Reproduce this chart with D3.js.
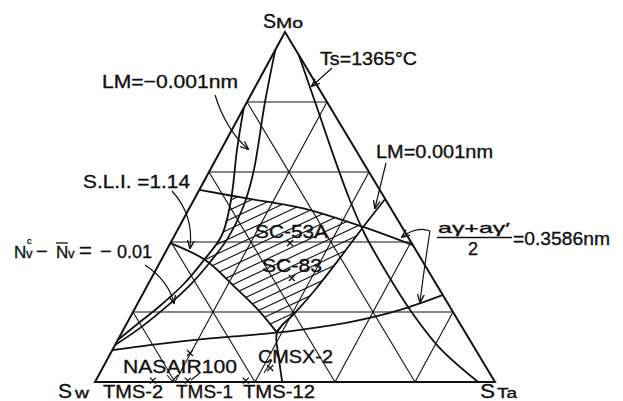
<!DOCTYPE html>
<html><head><meta charset="utf-8">
<script src="https://cdn.jsdelivr.net/npm/d3@7"></script>
<style>
body{margin:0;background:#fff}
svg{display:block}
text{font-family:"Liberation Sans Narrow","Liberation Sans",Arial,sans-serif;fill:#111;stroke:#111;stroke-width:0.35}
</style>
</head><body>
<svg id="c" width="623" height="401"></svg>
<script>
// Ternary W–Mo–Ta diagram. Every point is [Mo %, Ta %]; W = 100 - Mo - Ta.
const gridLevels = [20, 40, 60, 80];

const tsLine   = [[93.4,6.6],[77.7,18.8],[63.4,29.9],[52.0,39.0],[42.0,47.6],[32.0,57.3],[20.6,69.0],[9.7,81.6],[0,95.8]];
const lmMinus  = [[94.9,0],[80.0,4.5],[59.7,11.2],[50.0,13.3],[41.1,13.7],[34.3,12.5],[27.7,10.6],[21.1,7.4],[15.4,3.9],[10.6,0]];
const nvLine   = [[78.3,0],[66.3,4.0],[52.0,9.3],[42.0,11.8],[34.9,10.7],[28.0,8.9],[21.7,5.9],[16.0,2.4],[12.0,0]];
const latUpper = [[54.9,0],[52.3,13.9],[50.9,22.1],[49.1,30.4],[44.3,46.0],[39.1,60.9]];
const latLower = [[9.1,0],[10.9,11.1],[12.3,21.7],[13.4,32.4],[14.1,38.8],[14.9,44.2],[17.1,55.6],[20.6,66.5],[24.9,75.2]];
const sliLine  = [[39.7,0],[34.9,10.9],[27.1,22.1],[20.6,31.0],[14.1,38.8]];
const lmPlus   = [[52.3,47.7],[44.3,46.0],[35.4,44.4],[26.3,42.5],[19.7,40.6],[14.1,38.8],[6.9,42.7],[0,46.8]];
const hatchZone = [[53.1,8.9],[52.3,13.9],[50.9,22.1],[49.1,30.4],[44.3,46.0],[35.4,44.4],[26.3,42.5],[19.7,40.6],[14.1,38.8],[20.6,31.0],[27.1,22.1],[34.9,10.9],[42.0,11.8],[52.0,9.3]];

const alloyNames = ["SC-53A","SC-83","NASAIR100","CMSX-2","TMS-2","TMS-1","TMS-12"];
const alloyMo    = [39.7, 29.7, 8.3, 4.0, 0.4, 0.4, 0.4];
const alloyTa    = [29.9, 35.1, 19.8, 41.9, 14.3, 23.0, 37.5];

const svg = d3.select("#c");
const yOf   = d3.scaleLinear().domain([0,100]).range([382,32]);
const leftX = d3.scaleLinear().domain([0,100]).range([95,285]);
const taX   = d3.scaleLinear().domain([0,100]).range([0,400]);
const proj = ([mo, ta]) => [leftX(mo) + taX(ta), yOf(mo)];

const defs = svg.append("defs");
defs.append("marker").attr("id","ah").attr("viewBox","0 0 10 10").attr("refX",9).attr("refY",5)
  .attr("markerWidth",7).attr("markerHeight",7).attr("orient","auto")
  .append("path").attr("d","M0,1 L10,5 L0,9").attr("fill","none").attr("stroke","#111").attr("stroke-width",1.6);

// hatched window
defs.append("clipPath").attr("id","hz").append("path")
  .attr("d", d3.line()(hatchZone.map(proj)) + "Z");
const hg = svg.append("g").attr("clip-path","url(#hz)");
d3.range(-10, 40).forEach(k => {
  const y0 = 200 + k * 9.5;
  hg.append("line").attr("x1",150).attr("y1",y0).attr("x2",450).attr("y2",y0 - 0.47*300)
    .attr("stroke","#111").attr("stroke-width",1.1);
});

// grid
const grid = svg.append("g").attr("stroke","#111").attr("stroke-width",1.1).attr("fill","none");
gridLevels.forEach(L => {
  [[[L,0],[L,100-L]], [[0,L],[100-L,L]], [[0,100-L],[100-L,0]]].forEach(seg => {
    const a = proj(seg[0]), b = proj(seg[1]);
    grid.append("line").attr("x1",a[0]).attr("y1",a[1]).attr("x2",b[0]).attr("y2",b[1]);
  });
});

// frame
svg.append("path").attr("d", d3.line()([[100,0],[0,0],[0,100]].map(proj)) + "Z")
  .attr("fill","none").attr("stroke","#111").attr("stroke-width",2).attr("stroke-linejoin","miter");

// property curves
const curve = d3.line().curve(d3.curveCatmullRom.alpha(0.5));
[tsLine, lmMinus, nvLine, latUpper, latLower, sliLine, lmPlus].forEach(c => {
  svg.append("path").attr("d", curve(c.map(proj))).attr("fill","none")
    .attr("stroke","#111").attr("stroke-width",1.8);
});

// alloys
alloyNames.forEach((n,i) => {
  const [x,y] = proj([alloyMo[i], alloyTa[i]]);
  svg.append("path").attr("d",`M${x-3},${y-3}L${x+3},${y+3}M${x-3},${y+3}L${x+3},${y-3}`)
    .attr("stroke","#111").attr("stroke-width",1.3);
});

// labels
function txt(s, x, y, size, w, anchor) {
  const t = svg.append("text").attr("x",x).attr("y",y).attr("font-size",size).text(s);
  if (w) t.attr("textLength",w).attr("lengthAdjust","spacingAndGlyphs");
  if (anchor) t.attr("text-anchor",anchor);
  return t;
}
txt("S",263,28,20,13); txt("Mo",276,28,14,27);
txt("S",58,398,20,14); txt("w",75,398,14,14);
txt("S",480,398,20,15); txt("Ta",497,398,14,20);

txt("LM=−0.001nm",102,88,19,136);
txt("Ts=1365°C",320,65,19,97);
txt("LM=0.001nm",376,158,19,117);
txt("S.L.I. =1.14",83,188,19,107);

// N_v^c − N̄_v = −0.01, set as one text run
const nv = svg.append("text").attr("y",258).attr("font-size",17);
[["N",14,0,17],["v",26,0,13],["c",27,-14,9],["−",36,14,20],["N",56,0,17],["v",68,0,13],["=",79,0,22],["−",100,0,20],["0.01",117,0,18]]
  .forEach(([s,x,dy,fs]) => nv.append("tspan").attr("x",x).attr("dy",dy).attr("font-size",fs).text(s));
svg.append("line").attr("x1",56).attr("x2",68).attr("y1",243).attr("y2",243).attr("stroke","#111").attr("stroke-width",1.3);

txt("aγ+aγ′",438,233,15,72);
svg.append("line").attr("x1",437).attr("x2",512).attr("y1",237.5).attr("y2",237.5).attr("stroke","#111").attr("stroke-width",1.4);
txt("2",468,255,18,10);
txt("=0.3586nm",513,245,19,97);

txt("SC-53A",255,238,19,73);
txt("SC-83",262,272,19,60);
txt("NASAIR100",123,373,19,114);
txt("CMSX-2",258,363,19,75);
txt("TMS-2",103,398,19,60);
txt("TMS-1",176,398,19,57);
txt("TMS-12",243,398,19,72);

// leaders with arrowheads
const arrows = [
  "M215,95 Q226,130 248,149",
  "M332,68 L312,86",
  "M386,163 L375,208",
  "M172,191 Q194,215 190,248",
  "M145,265 Q168,280 174,303",
  "M430,231 Q417,226 402,237",
  "M430,231 Q425,262 420,302"
];
arrows.forEach(d => svg.append("path").attr("d",d).attr("fill","none")
  .attr("stroke","#111").attr("stroke-width",1.2).attr("marker-end","url(#ah)"));

// plain leaders near the base labels
["M167,375 L172,381 L178,375","M200,373 L191,380","M264,373 L272,360"].forEach(d =>
  svg.append("path").attr("d",d).attr("fill","none").attr("stroke","#111").attr("stroke-width",1.1));
</script>
</body></html>
